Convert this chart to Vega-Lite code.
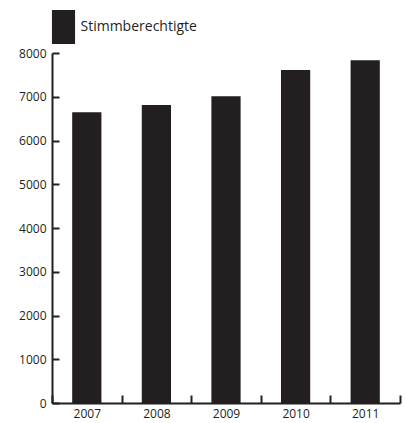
{
  "$schema": "https://vega.github.io/schema/vega-lite/v6.json",
  "width": 348,
  "height": 350,
  "autosize": {"type": "none"},
  "padding": {"left": 52, "top": 53, "right": 6, "bottom": 20},
  "background": "white",
  "config": {"view": {"stroke": null}, "font": "Open Sans"},
  "data": {
    "values": [
      {"year": "2007", "value": 6645, "series": "Stimmberechtigte"},
      {"year": "2008", "value": 6810, "series": "Stimmberechtigte"},
      {"year": "2009", "value": 7010, "series": "Stimmberechtigte"},
      {"year": "2010", "value": 7610, "series": "Stimmberechtigte"},
      {"year": "2011", "value": 7835, "series": "Stimmberechtigte"}
    ]
  },
  "mark": {"type": "bar", "width": {"band": 0.42}},
  "encoding": {
    "x": {
      "field": "year",
      "type": "ordinal",
      "scale": {"paddingInner": 0, "paddingOuter": 0},
      "axis": {
        "title": null,
        "labelAngle": 0,
        "tickBand": "extent",
        "tickSize": -8,
        "tickWidth": 2,
        "tickColor": "#231f20",
        "domainWidth": 2,
        "domainColor": "#231f20",
        "labelFontSize": 12,
        "labelColor": "#231f20",
        "labelPadding": 13
      }
    },
    "y": {
      "field": "value",
      "type": "quantitative",
      "scale": {"domain": [0, 8000], "nice": false},
      "axis": {
        "title": null,
        "values": [0, 1000, 2000, 3000, 4000, 5000, 6000, 7000, 8000],
        "format": "d",
        "grid": false,
        "tickSize": -7,
        "tickWidth": 2,
        "tickColor": "#231f20",
        "domainWidth": 2,
        "domainColor": "#231f20",
        "labelFontSize": 12,
        "labelColor": "#231f20",
        "labelPadding": 13
      }
    },
    "color": {
      "field": "series",
      "type": "nominal",
      "scale": {"range": ["#231f20"]},
      "legend": {
        "title": null,
        "orient": "none",
        "legendX": -5.5,
        "legendY": -43,
        "padding": 0,
        "symbolType": "M-0.68,-1H0.68V1H-0.68Z",
        "symbolSize": 1156,
        "symbolStrokeWidth": 0,
        "symbolOpacity": 1,
        "labelFontSize": 14,
        "labelColor": "#231f20",
        "labelOffset": 0
      }
    }
  }
}
